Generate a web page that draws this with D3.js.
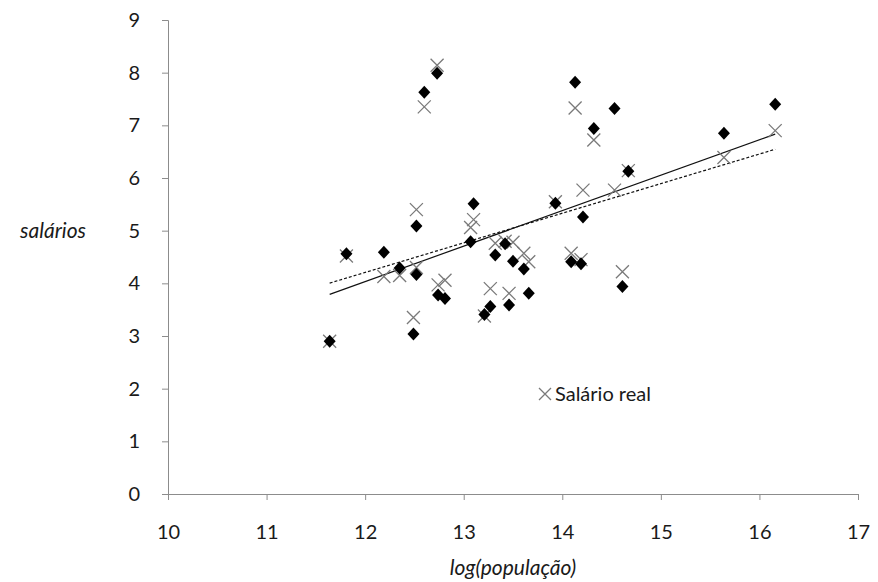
<!DOCTYPE html>
<html>
<head>
<meta charset="utf-8">
<script src="https://cdnjs.cloudflare.com/ajax/libs/d3/7.8.5/d3.min.js"></script>
<style>
  body { margin: 0; background: #fff; }
  svg text { font-family: Lato, "Open Sans", sans-serif; fill: #1a1a1a; }
</style>
</head>
<body>
<div id="chart"></div>
<script>
// log(população) for each city
const logPop = [11.64, 11.81, 12.19, 12.35, 12.52, 12.52, 12.49, 12.60, 12.73, 12.74, 12.81,
  13.07, 13.10, 13.21, 13.27, 13.32, 13.42, 13.46, 13.50, 13.61, 13.66, 13.93,
  14.09, 14.13, 14.19, 14.21, 14.32, 14.53, 14.61, 14.67, 15.64, 16.16];
// salário nominal (diamonds)
const salNominal = [2.90, 4.56, 4.59, 4.29, 4.17, 5.09, 3.04, 7.63, 7.99, 3.78, 3.71,
  4.79, 5.51, 3.41, 3.56, 4.54, 4.75, 3.59, 4.42, 4.27, 3.81, 5.52,
  4.41, 7.82, 4.37, 5.26, 6.94, 7.32, 3.94, 6.13, 6.85, 7.40];
// salário real (crosses)
const salReal = [2.90, 4.52, 4.13, 4.15, 4.30, 5.40, 3.35, 7.35, 8.14, 3.97, 4.06,
  5.06, 5.21, 3.38, 3.90, 4.76, 4.80, 3.81, 4.78, 4.57, 4.41, 5.55,
  4.57, 7.33, 4.45, 5.77, 6.72, 5.77, 4.22, 6.14, 6.39, 6.90];
const xTicks = [10, 11, 12, 13, 14, 15, 16, 17];
const yTicks = [0, 1, 2, 3, 4, 5, 6, 7, 8, 9];

const W = 878, H = 582;
const margin = { top: 20, right: 20, bottom: 88, left: 168 };

const svg = d3.select("#chart").append("svg")
  .attr("width", W)
  .attr("height", H);

const x = d3.scaleLinear().domain([10, 17]).range([margin.left, W - margin.right]);
const y = d3.scaleLinear().domain([0, 9]).range([H - margin.bottom, margin.top]);

const axisColor = "#8c8c8c";

const xAxis = svg.append("g")
  .attr("transform", `translate(0,${y(0)})`)
  .call(d3.axisBottom(x).tickValues(xTicks).tickSize(6).tickPadding(25).tickFormat(d3.format("d")));
const yAxis = svg.append("g")
  .attr("transform", `translate(${x(10)},0)`)
  .call(d3.axisLeft(y).tickValues(yTicks).tickSize(6).tickPadding(22).tickFormat(d3.format("d")));

[xAxis, yAxis].forEach(a => {
  a.select(".domain").attr("stroke", axisColor);
  a.selectAll(".tick line").attr("stroke", axisColor);
  a.selectAll(".tick text").style("font-size", "20px").attr("fill", "#1a1a1a");
});

// least-squares line over the data range
function fit(xs, ys) {
  const mx = d3.mean(xs), my = d3.mean(ys);
  let sxy = 0, sxx = 0;
  xs.forEach((v, i) => { sxy += (v - mx) * (ys[i] - my); sxx += (v - mx) * (v - mx); });
  const b = sxy / sxx, a = my - b * mx;
  const ext = d3.extent(xs);
  return ext.map(v => [v, a + b * v]);
}

const line = d3.line().x(d => x(d[0])).y(d => y(d[1]));

svg.append("path")
  .datum(fit(logPop, salNominal))
  .attr("d", line)
  .attr("fill", "none")
  .attr("stroke", "#111")
  .attr("stroke-width", 1.2);

svg.append("path")
  .datum(fit(logPop, salReal))
  .attr("d", line)
  .attr("fill", "none")
  .attr("stroke", "#111")
  .attr("stroke-width", 1.2)
  .attr("stroke-dasharray", "3,2");

const crossPath = "M-6.5,-6.5L6.5,6.5M-6.5,6.5L6.5,-6.5";

svg.append("g")
  .selectAll("path")
  .data(logPop)
  .join("path")
  .attr("transform", (d, i) => `translate(${x(d)},${y(salReal[i])})`)
  .attr("d", crossPath)
  .attr("stroke", "#7a7a7a")
  .attr("stroke-width", 1.3)
  .attr("fill", "none");

svg.append("g")
  .selectAll("path")
  .data(logPop)
  .join("path")
  .attr("transform", (d, i) => `translate(${x(d)},${y(salNominal[i])})`)
  .attr("d", "M0,-6.5L6,0L0,6.5L-6,0Z")
  .attr("fill", "#000");

// legend
const lg = svg.append("g").attr("transform", "translate(545,394)");
lg.append("path")
  .attr("d", "M-6,-6L6,6M-6,6L6,-6")
  .attr("stroke", "#7a7a7a")
  .attr("stroke-width", 1.3);
lg.append("text")
  .attr("x", 10)
  .attr("dy", "0.35em")
  .style("font-size", "20px")
  .text("Salário real");

// axis titles
svg.append("text")
  .attr("x", (x(10) + x(17)) / 2)
  .attr("y", 568)
  .attr("text-anchor", "middle")
  .attr("dy", "0.35em")
  .style("font-size", "21px")
  .style("font-style", "italic")
  .text("log(população)");

svg.append("text")
  .attr("x", 53)
  .attr("y", y(5))
  .attr("text-anchor", "middle")
  .attr("dy", "0.35em")
  .style("font-size", "21px")
  .style("font-style", "italic")
  .text("salários");
</script>
</body>
</html>
